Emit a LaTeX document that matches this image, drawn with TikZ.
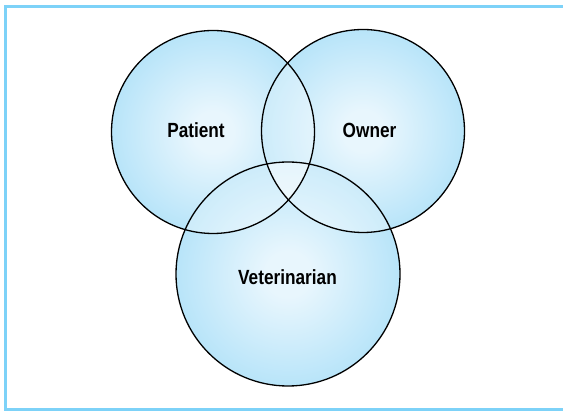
\documentclass[tikz,border=0pt]{standalone}
\usepackage{fontspec}
\newfontfamily\vennfont[FakeStretch=0.84]{Liberation Sans}
\definecolor{vennblue}{RGB}{122,204,243}
\definecolor{vennmid}{RGB}{172,224,248}
\definecolor{vennwhite}{RGB}{232,246,253}
\definecolor{framecol}{RGB}{125,210,248}
\pgfdeclareradialshading{venn}{\pgfpoint{0bp}{0bp}}{color(0bp)=(vennwhite); color(5bp)=(vennwhite); color(30bp)=(vennmid); color(48bp)=(vennblue); color(100bp)=(vennblue)}

\begin{document}
\begin{tikzpicture}[x=1pt,y=-1pt,
    ring/.style={circle,shading=venn,inner sep=0pt},
    rim/.style={draw=black,line width=1.3pt},
    tag/.style={anchor=base,font=\vennfont\bfseries\fontsize{20.5}{24}\selectfont}]
    \useasboundingbox (0,0) rectangle (563,411);
    \draw[framecol,line width=2.6pt] (5.5,6.5) rectangle (575,409.5);
    % the three circles
    \node[ring,minimum size=203pt] (patient) at (213,132) {};
    \node[ring,minimum size=203pt] (owner) at (363,131) {};
    \node[ring,minimum size=224pt] (vet) at (288,274) {};
    % lighter overlaps
    \begin{scope}
        \clip (patient.center) circle[radius=101.5];
        \fill[white,opacity=0.3] (owner.center) circle[radius=101.5];
        \fill[white,opacity=0.3] (vet.center) circle[radius=112];
    \end{scope}
    \begin{scope}
        \clip (owner.center) circle[radius=101.5];
        \fill[white,opacity=0.3] (vet.center) circle[radius=112];
    \end{scope}
    \draw[rim] (patient.center) circle[radius=101.5];
    \draw[rim] (owner.center) circle[radius=101.5];
    \draw[rim] (vet.center) circle[radius=112];
    % labels
    \node[tag] (patientlabel) at (196,138) {Patient};
    \node[tag] (ownerlabel) at (369.5,138) {Owner};
    \node[tag] (vetlabel) at (287.5,285) {Veterinarian};
\end{tikzpicture}
\end{document}
